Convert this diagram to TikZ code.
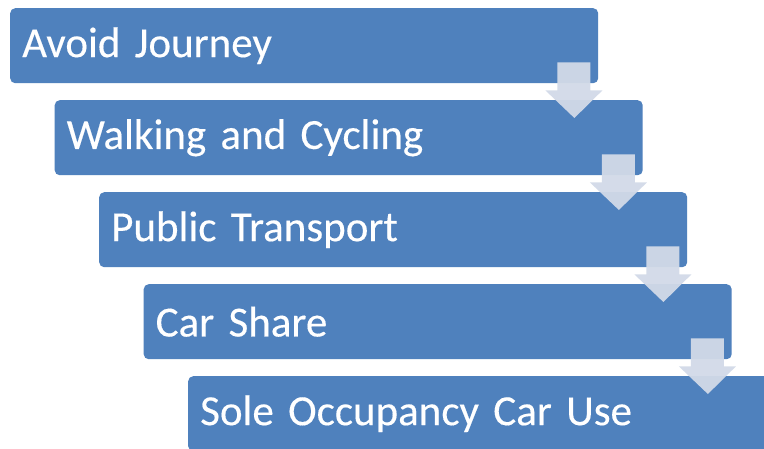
\documentclass[tikz,border=0pt]{standalone}
\usepackage{fontspec}
\setmainfont{Carlito}[FakeBold=0.3]
\usetikzlibrary{calc}
\definecolor{boxblue}{RGB}{79,129,189}
\definecolor{arrowgrey}{RGB}{210,218,232}
\tikzset{
  stepbox/.style={fill=boxblue, rounded corners=5pt, anchor=north west,
    minimum width=588pt, minimum height=75pt, text width=564pt,
    inner xsep=12pt, align=left, text=white,
    font=\fontsize{43}{45}\selectfont},
  flowarrow/.style={fill=arrowgrey, fill opacity=0.95}
}
\begin{document}
\begin{tikzpicture}[x=1pt, y=-1pt]
      \clip (0,0) rectangle (764,448);
      \fill[white] (0,0) rectangle (764,448);
      \draw
        (10,8) node[stepbox] (avoid){Avoid Journey}
        (54.5,100) node[stepbox] (walk){Walking and Cycling}
        (99,192) node[stepbox] (public){Public Transport}
        (143.5,284) node[stepbox] (share){Car Share}
        (188,376) node[stepbox] (sole){Sole Occupancy Car Use};
      \begin{scope}[flowarrow]
        \foreach \a/\b in {avoid/walk, walk/public, public/share, share/sole}
          \fill ($(\a.south east)+(-41,-21)$) -- ($(\a.south east)+(-8,-21)$)
            -- ($(\a.south east)+(-8,7)$) -- ($(\a.south east)+(4,7)$)
            -- ($(\b.north east)+(-68.5,18)$)
            -- ($(\a.south east)+(-53,7)$) -- ($(\a.south east)+(-41,7)$) -- cycle;
      \end{scope}
    \end{tikzpicture}
\end{document}
